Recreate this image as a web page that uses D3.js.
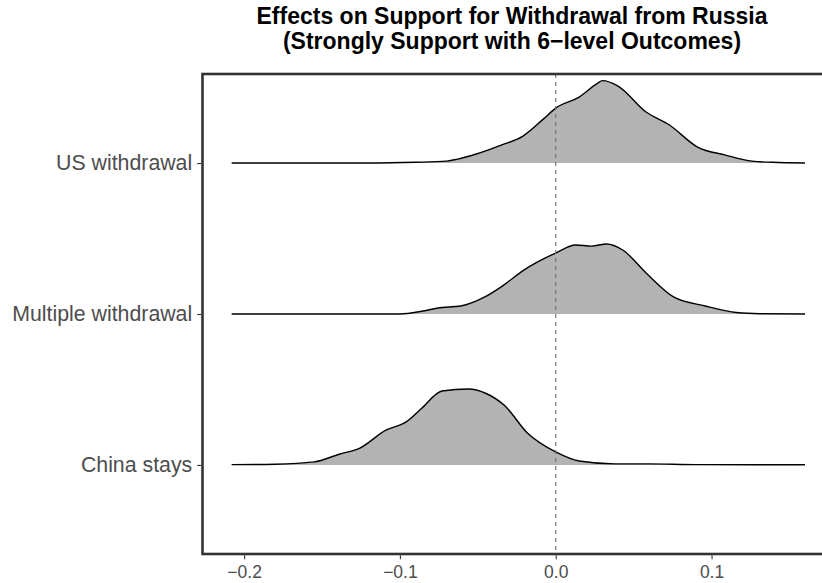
<!DOCTYPE html>
<html>
<head>
<meta charset="utf-8">
<script src="https://cdn.jsdelivr.net/npm/d3@7"></script>
<style>
  body { margin: 0; background: #fff; }
  svg { display: block; font-family: "Liberation Sans", Arial, sans-serif; }
</style>
</head>
<body>
<svg id="chart"></svg>
<script>
// categories, bottom to top
const categories = ["China stays", "Multiple withdrawal", "US withdrawal"];
const xTicks = [-0.2, -0.1, 0.0, 0.1];
const titleLines = ["Effects on Support for Withdrawal from Russia", "(Strongly Support with 6\u2212level Outcomes)"];

// density outlines (x = effect, h = ridge height in row units)
const usX = [-0.208, -0.12, -0.09, -0.07, -0.063, -0.051, -0.035, -0.021, -0.008, 0.0, 0.015, 0.027, 0.03, 0.04, 0.058, 0.073, 0.091, 0.109, 0.126, 0.139, 0.16];
const usH = [0, 0, 0.005, 0.013, 0.026, 0.06, 0.119, 0.179, 0.291, 0.364, 0.437, 0.53, 0.546, 0.51, 0.338, 0.252, 0.106, 0.053, 0.013, 0.005, 0];

const multX = [-0.208, -0.1, -0.086, -0.0756, -0.061, -0.0455, -0.035, -0.0205, 0.0, 0.0128, 0.023, 0.0327, 0.043, 0.058, 0.0756, 0.096, 0.116, 0.131, 0.16];
const multH = [0, 0, 0.018, 0.04, 0.053, 0.113, 0.18, 0.291, 0.404, 0.457, 0.45, 0.464, 0.424, 0.272, 0.113, 0.053, 0.01, 0.002, 0];

const chinaX = [-0.208, -0.18, -0.155, -0.139, -0.126, -0.109, -0.096, -0.086, -0.073, -0.056, -0.045, -0.033, -0.018, 0.0, 0.015, 0.038, 0.06, 0.09, 0.16];
const chinaH = [0.002, 0.005, 0.02, 0.071, 0.11, 0.23, 0.285, 0.375, 0.49, 0.503, 0.475, 0.395, 0.21, 0.086, 0.026, 0.007, 0.007, 0.002, 0.001];

const ridges = [
  { name: "China stays", xs: chinaX, hs: chinaH },
  { name: "Multiple withdrawal", xs: multX, hs: multH },
  { name: "US withdrawal", xs: usX, hs: usH }
];

const width = 822, height = 583;
const panel = { left: 202.5, right: 834, top: 74, bottom: 554 };

const svg = d3.select("#chart").attr("width", width).attr("height", height);

const x = d3.scaleLinear().domain([-0.2267, 0.1786]).range([panel.left, panel.right]);
const y = d3.scaleLinear().domain([0.41, 3.59]).range([panel.bottom, panel.top]);
const row = d => categories.indexOf(d) + 1;

// ridges
ridges.forEach(r => {
  const base = row(r.name);
  const pts = r.xs.map((v, i) => [v, r.hs[i]]);
  const area = d3.area().x(d => x(d[0])).y0(y(base)).y1(d => y(base + d[1])).curve(d3.curveMonotoneX);
  const line = d3.line().x(d => x(d[0])).y(d => y(base + d[1])).curve(d3.curveMonotoneX);
  svg.append("path").attr("d", area(pts)).attr("fill", "#b3b3b3");
  svg.append("path").attr("d", line(pts)).attr("fill", "none").attr("stroke", "#000").attr("stroke-width", 1.4);
});

// dashed zero line
svg.append("line")
  .attr("x1", x(0)).attr("x2", x(0)).attr("y1", panel.top).attr("y2", panel.bottom)
  .attr("stroke", "#6e6e6e").attr("stroke-width", 1.1).attr("stroke-dasharray", "4,4");

// panel border
svg.append("rect")
  .attr("x", panel.left).attr("y", panel.top)
  .attr("width", panel.right - panel.left).attr("height", panel.bottom - panel.top)
  .attr("fill", "none").attr("stroke", "#333").attr("stroke-width", 2.6);

// x axis
const xAxis = svg.append("g").attr("transform", `translate(0,${panel.bottom + 1.3})`)
  .call(d3.axisBottom(x).tickValues(xTicks).tickFormat(d3.format(".1f")).tickSize(4).tickPadding(6));
xAxis.select(".domain").remove();
xAxis.selectAll("line").attr("stroke", "#333").attr("stroke-width", 1.1);
xAxis.selectAll("text").attr("fill", "#4d4d4d").attr("font-size", 17.5).attr("font-family", "Liberation Sans, Arial, sans-serif");

// y axis
const yAxis = svg.append("g").attr("transform", `translate(${panel.left - 1.3},0)`)
  .call(d3.axisLeft(y).tickValues([1, 2, 3]).tickFormat(d => categories[d - 1]).tickSize(4).tickPadding(5));
yAxis.select(".domain").remove();
yAxis.selectAll("line").attr("stroke", "#333").attr("stroke-width", 1.1);
yAxis.selectAll("text").attr("fill", "#4d4d4d").attr("font-size", 21.3).attr("font-family", "Liberation Sans, Arial, sans-serif");

// title
svg.append("text").attr("text-anchor", "middle").attr("x", 512)
  .attr("font-weight", "bold").attr("font-size", 23).attr("fill", "#000")
  .selectAll("tspan").data(titleLines).enter().append("tspan")
  .attr("x", 512).attr("y", (d, i) => 24 + i * 25).text(d => d);
</script>
</body>
</html>
